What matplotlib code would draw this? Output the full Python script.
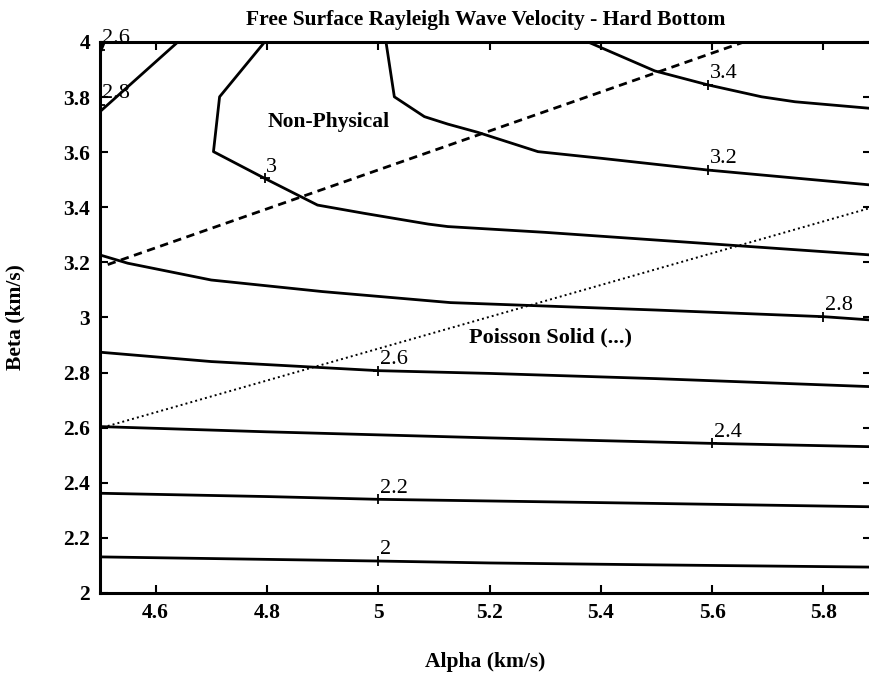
import matplotlib
matplotlib.use("Agg")
import matplotlib.pyplot as plt

plt.rcParams["font.family"] = ["Liberation Serif", "DejaVu Serif"]

# ── contour polylines (alpha, beta in km/s) ────────────────────────────────
c20_alpha = [4.5, 4.8, 5.0, 5.2, 5.5, 5.885]
c20_beta = [2.131, 2.122, 2.116, 2.109, 2.102, 2.094]

c22_alpha = [4.5, 4.8, 5.0, 5.2, 5.5, 5.885]
c22_beta = [2.362, 2.350, 2.340, 2.334, 2.325, 2.313]

c24_alpha = [4.5, 4.8, 5.0, 5.2, 5.6, 5.885]
c24_beta = [2.604, 2.585, 2.574, 2.563, 2.543, 2.531]

c26_alpha = [4.5, 4.7, 5.0, 5.2, 5.5, 5.885]
c26_beta = [2.874, 2.840, 2.807, 2.797, 2.778, 2.749]

c28_alpha = [4.5, 4.55, 4.7, 4.9, 5.13, 5.5, 5.8, 5.885]
c28_beta = [3.227, 3.197, 3.136, 3.094, 3.054, 3.027, 3.003, 2.991]

c30_alpha = [4.796, 4.715, 4.704, 4.796, 4.891, 4.975, 5.09, 5.125, 5.3, 5.6, 5.885]
c30_beta = [4.0, 3.801, 3.602, 3.505, 3.408, 3.378, 3.339, 3.330, 3.309, 3.267, 3.227]

c32_alpha = [5.014, 5.029, 5.083, 5.125, 5.179, 5.287, 5.40, 5.593, 5.885]
c32_beta = [4.0, 3.801, 3.729, 3.702, 3.672, 3.602, 3.578, 3.535, 3.481]

c34_alpha = [5.377, 5.497, 5.593, 5.689, 5.749, 5.885]
c34_beta = [4.0, 3.895, 3.844, 3.801, 3.783, 3.759]

# small pieces in the upper-left corner
c28b_alpha = [4.5, 4.640]
c28b_beta = [3.747, 4.0]
c26b_alpha = [4.5, 4.508]
c26b_beta = [3.959, 4.0]

# contour labels
label_text = ["2", "2.2", "2.4", "2.6", "2.8", "3", "3.2", "3.4", "2.8", "2.6"]
label_alpha = [5.0, 5.0, 5.6, 5.0, 5.8, 4.796, 5.593, 5.593, 4.50, 4.50]
label_beta = [2.116, 2.340, 2.543, 2.807, 3.003, 3.505, 3.535, 3.844, 3.771, 3.971]

# reference lines (beta/alpha boundaries)
nonphys_alpha = [4.514, 5.657]
nonphys_beta = [3.192, 4.0]
poisson_alpha = [4.514, 5.885]
poisson_beta = [2.606, 3.398]

x_ticks = [4.6, 4.8, 5.0, 5.2, 5.4, 5.6, 5.8]
x_ticklabels = ["4.6", "4.8", "5", "5.2", "5.4", "5.6", "5.8"]
y_ticks = [2.0, 2.2, 2.4, 2.6, 2.8, 3.0, 3.2, 3.4, 3.6, 3.8, 4.0]
y_ticklabels = ["2", "2.2", "2.4", "2.6", "2.8", "3", "3.2", "3.4", "3.6", "3.8", "4"]

# =============================================================================
fig = plt.figure(figsize=(8.69, 6.75), dpi=100)
ax = fig.add_axes([0.115, 0.1215, 0.887, 0.8163])

contours = [
    (c20_alpha, c20_beta), (c22_alpha, c22_beta), (c24_alpha, c24_beta),
    (c26_alpha, c26_beta), (c28_alpha, c28_beta), (c30_alpha, c30_beta),
    (c32_alpha, c32_beta), (c34_alpha, c34_beta),
    (c28b_alpha, c28b_beta), (c26b_alpha, c26b_beta),
]
for a, b in contours:
    ax.plot(a, b, color="black", lw=2.0, solid_capstyle="butt")

ax.plot(nonphys_alpha, nonphys_beta, color="black", lw=2.0, ls=(0, (3, 2)))
ax.plot(poisson_alpha, poisson_beta, color="black", lw=1.4, ls=(0, (1, 1.6)))

for t, a, b in zip(label_text, label_alpha, label_beta):
    ax.plot(a, b, marker="+", color="black", ms=7, mew=1.3)
    ax.text(a + 0.003, b + 0.006, t, fontsize=16, ha="left", va="bottom")

ax.text(4.911, 3.71, "Non-Physical", fontsize=15.5, fontweight="bold",
        ha="center", va="center")
ax.text(5.309, 2.929, "Poisson Solid (...)", fontsize=16, fontweight="bold",
        ha="center", va="center")

ax.set_xlim(4.5, 5.885)
ax.set_ylim(2.0, 4.0)
ax.set_xticks(x_ticks)
ax.set_xticklabels(x_ticklabels)
ax.set_yticks(y_ticks)
ax.set_yticklabels(y_ticklabels)
ax.tick_params(direction="in", length=6, width=1.5, top=True, right=True,
               labelsize=15.5, pad=7)
for lab in ax.get_xticklabels() + ax.get_yticklabels():
    lab.set_fontweight("bold")
for sp in ax.spines.values():
    sp.set_linewidth(2.2)

ax.set_title("Free Surface Rayleigh Wave Velocity - Hard Bottom",
             fontsize=15.5, fontweight="bold", pad=12)
ax.set_xlabel("Alpha (km/s)", fontsize=15.5, fontweight="bold", labelpad=21)
ax.set_ylabel("Beta (km/s)", fontsize=15.5, fontweight="bold", labelpad=27)

fig.savefig("out.png", dpi=100)
